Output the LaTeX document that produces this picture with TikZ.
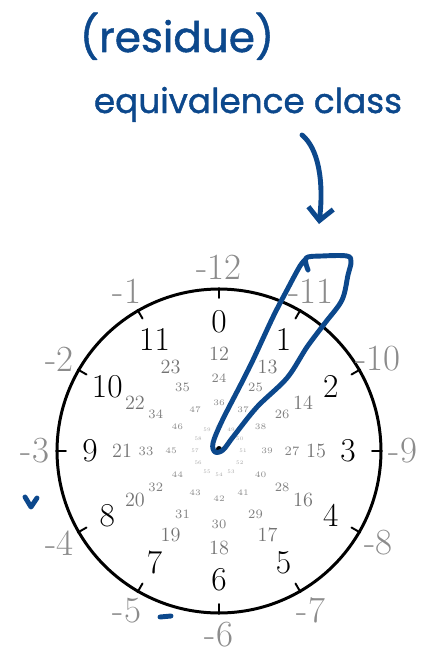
\documentclass[tikz,border=0pt]{standalone}
\usepackage{fontspec}
\usetikzlibrary{arrows.meta}
\newfontfamily\handfont{Poppins}[FakeBold=1.2]
\definecolor{inkblue}{RGB}{12,72,140}
\tikzset{
	ink/.style={draw=inkblue, line width=2.8pt, line cap=round, line join=round},
	hand/.style={text=inkblue, inner sep=0pt, anchor=base}
}
\begin{document}
\begin{tikzpicture}[x=0.02cm, y=-0.02cm, line join=round, line cap=round]
	\useasboundingbox (0,0) rectangle (423,652);
	\coordinate (O) at (219,451);
	\begin{scope}[shift={(O)}]
		% clock face
		\draw[line width=1.7pt] (0,0) circle[radius=3.24cm];
		\foreach \k in {0,...,11}
			\draw[line width=1.1pt] (30*\k-90:153) -- (30*\k-90:163);
		% residues, one ring for each turn
		\foreach \j/\r/\s/\c in {0/129/19/black, 1/97/11.5/black!55, 2/73/7.3/black!50, 3/48/4.8/black!45, 4/24/3/black!35}
			\foreach \k in {0,...,11} {
				\pgfmathtruncatemacro{\n}{12*\j+\k}
				\node[text=\c, font=\fontsize{\s}{\s}\selectfont] (r\n) at (30*\k-90:\r) {\n};
			}
		% negatives outside
		\foreach \m in {1,...,12}
			\node[text=black!45, inner sep=1pt, font=\fontsize{21}{21}\selectfont] (neg\m) at (270-30*\m:184) {-\m};
		\fill (0,-2) circle[radius=0.06cm];
	\end{scope}
	% handwritten note
	\node[hand, font=\handfont\fontsize{24}{24}\selectfont] (resid) at (177,52) {(residue)};
	\node[hand, font=\handfont\fontsize{19.5}{19.5}\selectfont] (equiv) at (248,113) {equivalence class};
	\coordinate (arrS) at (302,135);
	\coordinate (arrE) at (319,224);
	\draw[ink, -{Straight Barb[length=2.5mm, width=5mm]}] (arrS) .. controls (318,148) and (324,180) .. (arrE);
	\draw[ink] plot[smooth, tension=0.55] coordinates {(308,270) (306,258) (322,256) (347,256) (351,262) (348,275) (342,300) (325,323) (307,347) (287,378) (257,407) (233,437) (223,450) (215,452) (213,443) (222,421) (241,384) (253,360) (273,317) (287,290) (300,266) (306,259)};
	\draw[ink] (25,497) -- (31,507) -- (37,498);
	\draw[ink] (160,617) -- (171,616);
\end{tikzpicture}
\end{document}
